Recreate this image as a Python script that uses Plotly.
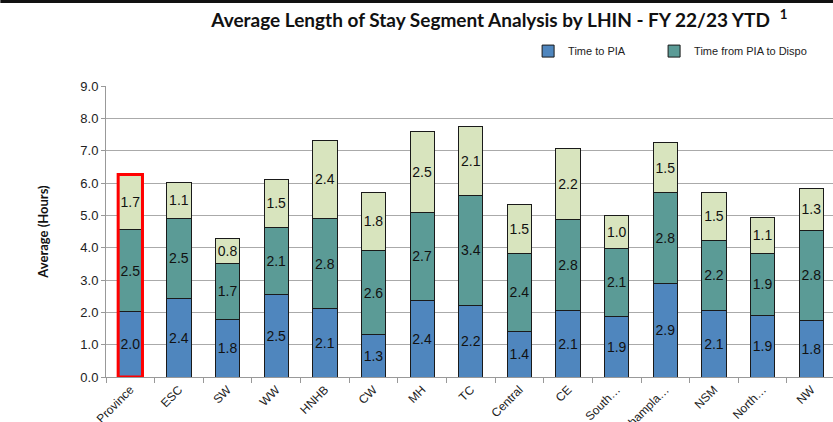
import plotly.graph_objects as go

# LHIN categories along the x axis
lhins = ["Province", "ESC", "SW", "WW", "HNHB", "CW", "MH", "TC", "Central",
         "CE", "South…", "Champla…", "NSM", "North…", "NW"]

# Average length of stay segments (hours)
time_to_pia = [2.03, 2.44, 1.78, 2.54, 2.11, 1.30, 2.37, 2.22, 1.41,
               2.06, 1.88, 2.90, 2.06, 1.91, 1.76]
time_pia_to_dispo = [2.52, 2.47, 1.73, 2.08, 2.78, 2.61, 2.72, 3.40, 2.41,
                     2.80, 2.10, 2.80, 2.17, 1.92, 2.78]
time_dispo_to_left = [1.71, 1.12, 0.78, 1.50, 2.44, 1.81, 2.50, 2.14, 1.52,
                      2.21, 1.02, 1.54, 1.47, 1.11, 1.29]

y_ticks = [0, 1, 2, 3, 4, 5, 6, 7, 8, 9]

series = [
    ("Time to PIA", time_to_pia, "#4F86BE", True, "legend"),
    ("Time from PIA to Dispo", time_pia_to_dispo, "#5B9B96", True, "legend2"),
    ("Time from Dispo to Left ED", time_dispo_to_left, "#D8E4BE", False, "legend"),
]

fig = go.Figure()
for name, vals, color, show, leg in series:
    fig.add_trace(go.Bar(
        x=lhins, y=vals, name=name, showlegend=show, legend=leg,
        marker=dict(color=color, line=dict(color="#1a1a1a", width=1)),
        texttemplate="%{y:.1f}", textposition="inside",
        insidetextanchor="middle", textangle=0, constraintext="none",
        textfont=dict(family="Liberation Sans, Arial", size=14, color="#111111"),
    ))

# Highlight the provincial total
province_total = time_to_pia[0] + time_pia_to_dispo[0] + time_dispo_to_left[0]
fig.add_shape(type="rect", xref="x", yref="y", x0=-0.25, x1=0.25,
              y0=0, y1=province_total, line=dict(color="#FF0000", width=3))

# Dark rule along the top edge of the page
plot_w, plot_h, m_left, m_top = 833 - 105.7, 422 - 86 - 45, 105.7, 86
fig.add_shape(type="rect", xref="paper", yref="paper",
              x0=-m_left / plot_w, x1=1.0,
              y0=1 + (m_top - 3) / plot_h, y1=1 + m_top / plot_h,
              fillcolor="#111111", line=dict(width=0), layer="above")

legend_font = dict(family="Liberation Sans Narrow, Liberation Sans", size=11,
                   color="#222222")
fig.update_layout(
    width=833, height=422,
    barmode="stack", bargap=0.5,
    plot_bgcolor="white", paper_bgcolor="white",
    margin=dict(l=m_left, r=0, t=m_top, b=45, autoexpand=False),
    title=dict(
        text="<b>Average Length of Stay Segment Analysis by LHIN - FY 22/23 YTD</b>"
             "  <sup><b>1</b></sup>",
        x=0.5995, xanchor="center", y=0.952, yanchor="middle",
        font=dict(family="Lato, Liberation Sans", size=19, color="#111111"),
    ),
    legend=dict(
        orientation="h", x=0.5806, xanchor="left", y=1.12, yref="paper",
        yanchor="middle", itemwidth=30, font=legend_font,
        bgcolor="rgba(0,0,0,0)",
    ),
    legend2=dict(
        orientation="h", x=0.7539, xanchor="left", y=1.12, yref="paper",
        yanchor="middle", itemwidth=30, font=legend_font,
        bgcolor="rgba(0,0,0,0)",
    ),
    font=dict(family="Liberation Sans, Arial", color="#222222"),
)

fig.update_xaxes(
    range=[-0.5, 14.446], tickangle=-45, tickson="boundaries",
    ticks="outside", ticklen=5, tickcolor="#999999",
    showline=True, linecolor="#999999", linewidth=1, showgrid=False,
    tickfont=dict(family="Liberation Sans, Arial", size=12, color="#222222"),
)
fig.update_yaxes(
    range=[0, 9], tickvals=y_ticks, tickformat=".1f",
    ticks="outside", ticklen=4, tickcolor="#999999",
    showline=True, linecolor="#999999", linewidth=1,
    showgrid=True, gridcolor="#AAAAAA", gridwidth=1,
    tickfont=dict(family="Liberation Sans, Arial", size=13, color="#222222"),
    title=dict(text="<b>Average (Hours)</b>", standoff=28,
               font=dict(family="Lato, Liberation Sans", size=13, color="#111111")),
)

fig.write_html("out.html")
